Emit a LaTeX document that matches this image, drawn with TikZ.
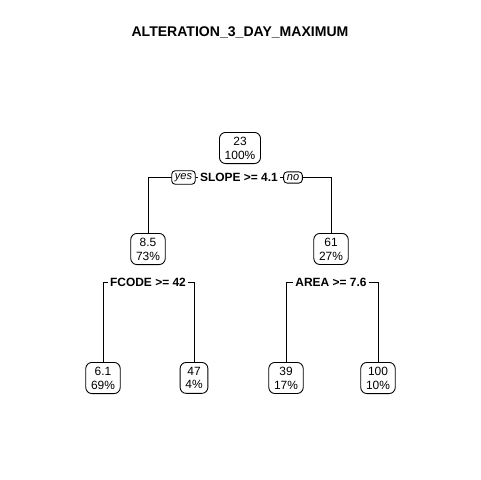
\documentclass[tikz,border=0pt]{standalone}
\usepackage{fontspec}
\setmainfont{Liberation Sans}
\usetikzlibrary{positioning}
\tikzset{
	leaf/.style={draw, rounded corners=3.5pt, align=center, anchor=north, inner xsep=3pt, inner ysep=2.5pt, font=\fontsize{6.8}{7.9}\selectfont},
	split/.style={fill=white, inner xsep=1pt, inner ysep=1pt, font=\fontsize{6.8}{8}\selectfont\bfseries},
	tag/.style={draw, fill=white, rounded corners=2pt, inner xsep=1.8pt, inner ysep=1.5pt, font=\fontsize{6.3}{6.5}\selectfont\itshape}
}

\begin{document}
\begin{tikzpicture}[x=0.02cm, y=-0.02cm, line width=0.5pt]
		\useasboundingbox[fill=white](0, 0) rectangle (480, 480);
		\node[font=\fontsize{8}{9}\selectfont\bfseries](title) at (240, 32){ALTERATION\_3\_DAY\_MAXIMUM};
		% root and first split
		\node[leaf](root) at (240, 132){23\\100\%};
		\node[leaf](n85) at (148, 233){8.5\\73\%};
		\node[leaf](n61) at (331, 233){61\\27\%};
		\draw(n85.north) |- (331, 177) -- (n61.north);
		\node[split](slope) at (239, 177){SLOPE >= 4.1};
		\node[tag](yes) at (183.5, 177.5){yes};
		\node[tag](no) at (293, 177.5){no};
		% left subtree
		\node[leaf](n61a) at (103, 362){6.1\\69\%};
		\node[leaf](n47) at (194, 362){47\\4\%};
		\node[split](fcode) at (148, 282){FCODE >= 42};
		\draw(fcode.west) -| (n61a.north);
		\draw(fcode.east) -| (n47.north);
		% right subtree
		\node[leaf](n39) at (286, 362){39\\17\%};
		\node[leaf](n100) at (378, 362){100\\10\%};
		\node[split](area) at (331, 282){AREA >= 7.6};
		\draw(area.west) -| (n39.north);
		\draw(area.east) -| (n100.north);
	\end{tikzpicture}
\end{document}
